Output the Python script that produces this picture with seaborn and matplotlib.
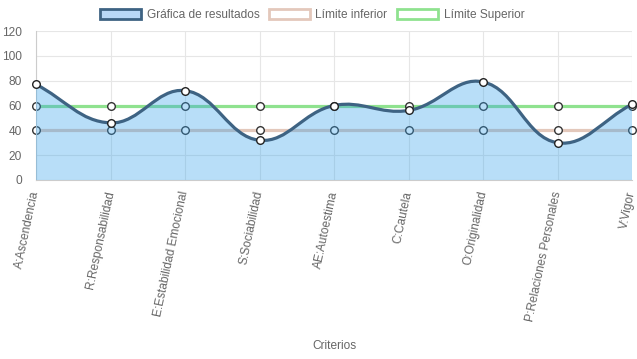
import numpy as np
import matplotlib
matplotlib.use("Agg")
import matplotlib.pyplot as plt
from matplotlib.path import Path
from matplotlib.patches import PathPatch, Patch
import seaborn as sns

criterios = ["A:Ascendencia", "R:Responsabilidad", "E:Estabilidad Emocional",
             "S:Sociabilidad", "AE:Autoestima", "C:Cautela", "O:Originalidad",
             "P:Relaciones Personales", "V:Vigor"]
resultados = [77, 46, 72, 32, 60, 56, 79, 30, 61]
limite_inferior = [40, 40, 40, 40, 40, 40, 40, 40, 40]
limite_superior = [60, 60, 60, 60, 60, 60, 60, 60, 60]
y_ticks = [0, 20, 40, 60, 80, 100, 120]

GRIS = "#666666"
AZUL_LINEA = "#3e6383"
AZUL_RELLENO = (0.21, 0.635, 0.92, 0.35)
VERDE = "#8fe28f"
ROSA = "#e3c8bb"

sns.set_style("white")
plt.rcParams["font.family"] = ["Liberation Sans", "DejaVu Sans"]


def curva_suave(xs, ys, sx, sy, t=0.4):
    # control points like the chart.js tension spline (computed in pixel space)
    px = np.asarray(xs, float) * sx
    py = np.asarray(ys, float) * sy
    n = len(px)
    cp_prev, cp_next = [], []
    for i in range(n):
        a, b = max(i - 1, 0), min(i + 1, n - 1)
        d01 = np.hypot(px[i] - px[a], py[i] - py[a])
        d12 = np.hypot(px[b] - px[i], py[b] - py[i])
        tot = d01 + d12
        fa = t * (d01 / tot if tot else 0)
        fb = t * (d12 / tot if tot else 0)
        dx, dy = px[b] - px[a], py[b] - py[a]
        cp_prev.append(((px[i] - fa * dx) / sx, (py[i] - fa * dy) / sy))
        cp_next.append(((px[i] + fb * dx) / sx, (py[i] + fb * dy) / sy))
    verts = [(xs[0], ys[0])]
    codes = [Path.MOVETO]
    for i in range(n - 1):
        verts += [cp_next[i], cp_prev[i + 1], (xs[i + 1], ys[i + 1])]
        codes += [Path.CURVE4] * 3
    return verts, codes


fig = plt.figure(figsize=(6.37, 3.59), dpi=100)
ax = fig.add_axes([36 / 637, 179 / 359, 596 / 637, 149 / 359])

x = list(range(len(criterios)))
sx, sy = 74.5, 149 / 120

# limit lines (behind the fill)
sns.lineplot(x=x, y=limite_inferior, color=ROSA, lw=2.3, ax=ax, zorder=1)
sns.lineplot(x=x, y=limite_superior, color=VERDE, lw=2.3, ax=ax, zorder=1)
for serie in (limite_inferior, limite_superior):
    sns.scatterplot(x=x, y=serie, s=30, facecolor="white", edgecolor="#333333",
                    linewidth=1, ax=ax, zorder=2, clip_on=False)

verts, codes = curva_suave(x, resultados, sx, sy)
relleno = PathPatch(Path(verts + [(x[-1], 0), (x[0], 0), (x[0], 0)],
                         codes + [Path.LINETO, Path.LINETO, Path.CLOSEPOLY]),
                    facecolor=AZUL_RELLENO, edgecolor="none", zorder=3)
ax.add_patch(relleno)
ax.add_patch(PathPatch(Path(verts, codes), facecolor="none", edgecolor=AZUL_LINEA,
                       lw=2.3, zorder=4, capstyle="round", joinstyle="round"))
sns.scatterplot(x=x, y=resultados, s=30, facecolor="white", edgecolor="#222222",
                linewidth=1, ax=ax, zorder=5, clip_on=False)

ax.set_xlim(0, len(criterios) - 1)
ax.set_ylim(0, 120)
ax.set_yticks(y_ticks)
ax.set_xticks(x)
ax.set_xticklabels(criterios, rotation=78, ha="right", va="center",
                   rotation_mode="anchor")
ax.tick_params(axis="both", length=6, width=0.8, color="#e0e0e0",
               labelcolor=GRIS, labelsize=8.6, pad=2)
ax.tick_params(axis="y", pad=4)
ax.grid(True, color="#e6e6e6", lw=0.8)
ax.set_axisbelow(True)
for lado in ("top", "right"):
    ax.spines[lado].set_visible(False)
for lado in ("left", "bottom"):
    ax.spines[lado].set_color("#cccccc")
    ax.spines[lado].set_linewidth(0.8)

ax.set_xlabel("Criterios", color=GRIS, fontsize=8.6, va="center")
ax.xaxis.set_label_coords(0.5, -1.114)

handles = [
    Patch(facecolor="#b9d8f6", edgecolor=AZUL_LINEA, lw=2, label="Gráfica de resultados"),
    Patch(facecolor="white", edgecolor=ROSA, lw=2, label="Límite inferior"),
    Patch(facecolor="white", edgecolor=VERDE, lw=2, label="Límite Superior"),
]
leg = fig.legend(handles=handles, loc="center", bbox_to_anchor=(0.49, 1 - 15 / 359),
                 ncol=3, frameon=False, fontsize=8.6, handlelength=3.4,
                 handleheight=0.9, handletextpad=0.5, columnspacing=0.8)
for txt in leg.get_texts():
    txt.set_color(GRIS)

fig.savefig("out.png", dpi=100)
